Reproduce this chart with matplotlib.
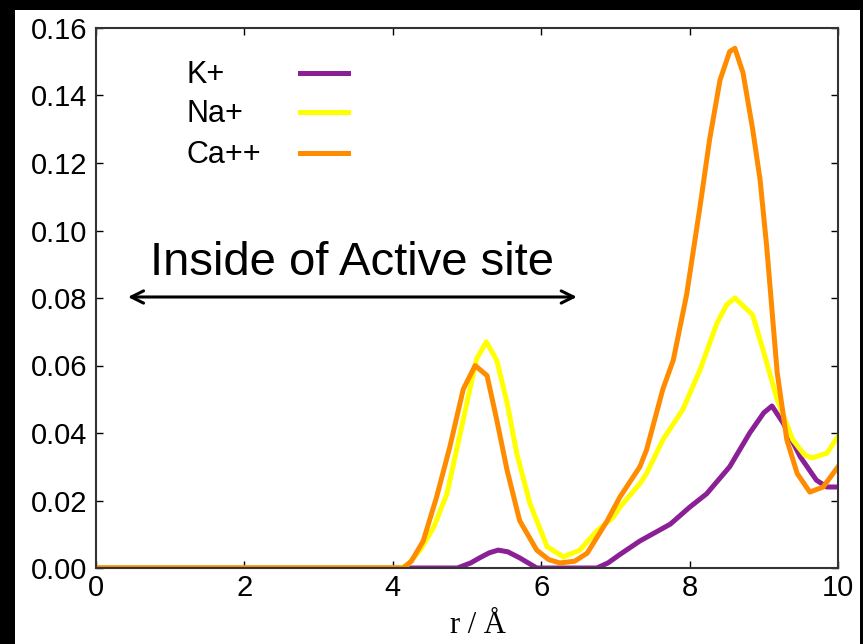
import matplotlib
matplotlib.use("Agg")
import matplotlib.pyplot as plt
from matplotlib.patches import Rectangle

# radial distribution data
r_k = [0.0, 4.6, 4.87, 5.05, 5.17, 5.3, 5.42, 5.55, 5.71, 5.94, 6.75, 6.9, 7.06, 7.33, 7.74,
       8.0, 8.23, 8.54, 8.81, 9.0, 9.11, 9.26, 9.49, 9.71, 9.85, 10.0]
g_k = [0.0, 0.0, 0.0, 0.0015, 0.003, 0.0045, 0.0053, 0.0048, 0.003, 0.0, 0.0, 0.0015, 0.004,
       0.008, 0.013, 0.018, 0.022, 0.030, 0.040, 0.046, 0.048, 0.043, 0.033, 0.026, 0.024, 0.024]

r_na = [0.0, 4.1, 4.2, 4.37, 4.55, 4.73, 4.95, 5.13, 5.26, 5.40, 5.54, 5.67, 5.85, 6.08, 6.30,
        6.52, 6.75, 6.97, 7.06, 7.33, 7.42, 7.64, 7.91, 8.14, 8.37, 8.5, 8.61, 8.85,
        8.99, 9.18, 9.39, 9.55, 9.65, 9.85, 10.0]
g_na = [0.0, 0.0, 0.001, 0.0053, 0.012, 0.022, 0.044, 0.062, 0.067, 0.0616, 0.049, 0.034, 0.019,
        0.0063, 0.0033, 0.0053, 0.011, 0.015, 0.018, 0.025, 0.028, 0.038, 0.047, 0.0587, 0.0726,
        0.078, 0.080, 0.075, 0.0646, 0.050, 0.038, 0.0335, 0.0326, 0.034, 0.039]

r_ca = [0.0, 4.14, 4.25, 4.41, 4.59, 4.77, 4.95, 5.11, 5.27, 5.40, 5.54, 5.71, 5.94, 6.1, 6.25,
        6.45, 6.62, 6.89, 7.06, 7.33, 7.42, 7.64, 7.78, 7.96, 8.14, 8.27, 8.41, 8.54, 8.61,
        8.72, 8.85, 8.95, 9.04, 9.18, 9.31, 9.45, 9.62, 9.80, 10.0]
g_ca = [0.0, 0.0, 0.002, 0.008, 0.021, 0.036, 0.053, 0.060, 0.057, 0.044, 0.029, 0.014, 0.0053,
        0.0025, 0.0015, 0.002, 0.0044, 0.014, 0.021, 0.030, 0.035, 0.053, 0.0616, 0.081, 0.107,
        0.127, 0.1446, 0.153, 0.154, 0.1467, 0.130, 0.115, 0.095, 0.058, 0.038, 0.028, 0.0225,
        0.024, 0.030]

labels = ["K+", "Na+", "Ca++"]
colors = ["#8b2096", "#ffff00", "#ff8c00"]

# -----------------------------------------------------------------------------
W, H = 863, 644
fig = plt.figure(figsize=(W / 100, H / 100), dpi=100, facecolor="black")
fig.patches.append(Rectangle((15 / W, 0), 845 / W, 634 / H, transform=fig.transFigure,
                             facecolor="white", edgecolor="none", zorder=-5))
ax = fig.add_axes([96 / W, (H - 568) / H, 742 / W, 540 / H])

for rr, gg, lab, col in zip([r_k, r_na, r_ca], [g_k, g_na, g_ca], labels, colors):
    ax.plot(rr, gg, color=col, linewidth=3.6, label=lab, solid_joinstyle="round")

ax.set_xlim(0, 10)
ax.set_ylim(0, 0.16)
ax.set_xticks([0, 2, 4, 6, 8, 10])
ax.set_yticks([0.0, 0.02, 0.04, 0.06, 0.08, 0.10, 0.12, 0.14, 0.16])
ax.set_yticklabels(["%.2f" % v for v in ax.get_yticks()])
ax.tick_params(direction="in", length=5, width=1, top=True, right=True,
               labelsize=21, colors="black")
ax.tick_params(axis="y", pad=6)
ax.tick_params(axis="x", pad=4)
for lbl in ax.get_xticklabels() + ax.get_yticklabels():
    lbl.set_fontfamily("Liberation Sans")
for s in ax.spines.values():
    s.set_linewidth(1.5)
    s.set_color("#333333")

ax.set_xlabel("r / Å", fontfamily="Liberation Serif", fontsize=22)
ax.xaxis.set_label_coords(0.515, -0.08, transform=ax.transAxes)
ax.xaxis.label.set_va("top")

# key in gnuplot style: left-justified labels, sample lines to the right
key_y = [0.913, 0.841, 0.765]
for lab, col, yk in zip(labels, colors, key_y):
    ax.text(0.1213, yk, lab, transform=ax.transAxes, ha="left", va="center",
            fontsize=22, fontfamily="Liberation Sans")
    ax.plot([0.275, 0.3396], [yk + 0.004, yk + 0.004], transform=ax.transAxes,
            color=col, linewidth=3.6)

ax.annotate("", xy=(0.43, 0.0803), xytext=(6.48, 0.0803),
            arrowprops=dict(arrowstyle="<->", color="black", lw=2.2,
                            mutation_scale=22, shrinkA=0, shrinkB=0))
ax.text(3.45, 0.0905, "Inside of Active site", ha="center", va="center",
        fontsize=34, fontfamily="Liberation Sans")

fig.savefig("out.png", dpi=100, facecolor="black")
